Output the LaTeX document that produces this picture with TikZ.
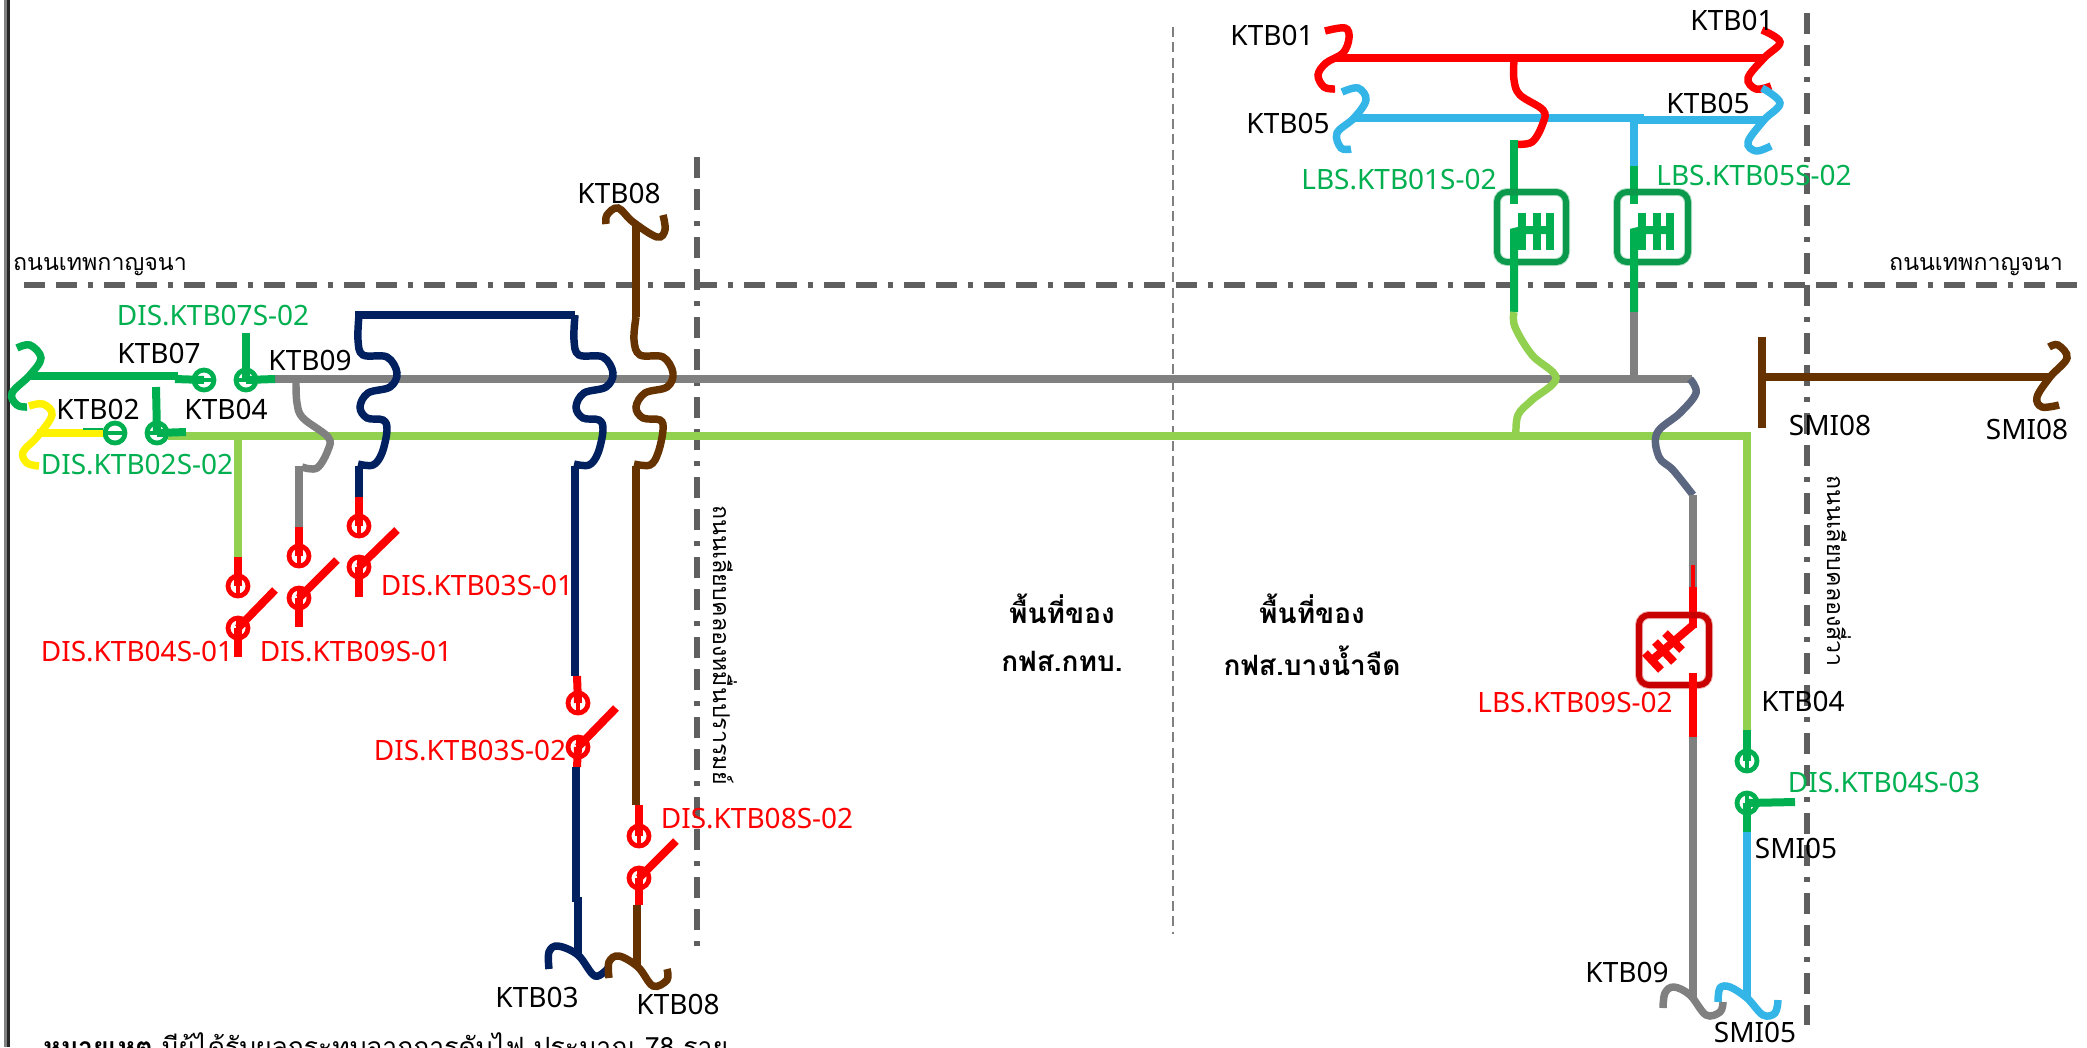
\documentclass[tikz,border=0pt]{standalone}
\usepackage{fontspec}
\setmainfont{Noto Sans}
\newfontfamily\thaif[Script=Thai]{Loma}
\definecolor{cgreen}{HTML}{00B050}
\definecolor{cdgreen}{HTML}{0B9A4B}
\definecolor{clgreen}{HTML}{92D050}
\definecolor{cred}{HTML}{FF0000}
\definecolor{cdred}{HTML}{C80000}
\definecolor{cblue}{HTML}{33B5E8}
\definecolor{cnavy}{HTML}{002060}
\definecolor{cbrown}{HTML}{663300}
\definecolor{cgrey}{HTML}{808080}
\definecolor{cslate}{HTML}{5B6780}
\definecolor{croad}{HTML}{5F5F5F}
\tikzset{
  x=0.75pt,y=-0.75pt,
  wire/.style={line width=6pt,line cap=butt,line join=miter},
  thinwire/.style={line width=2.6pt,line cap=butt},
  sq/.style={line width=5.6pt,line cap=butt,smooth,tension=0.6},
  road/.style={line width=4.5pt,color=croad,line cap=butt,dash pattern=on 15.75pt off 8.25pt on 15.75pt off 8.25pt on 3.75pt off 8.25pt},
  sw/.style={circle,draw=#1,line width=3.6pt,minimum size=15pt,inner sep=0pt},
  lab/.style={font=\fontsize{21}{23}\selectfont,text=black,inner sep=0pt},
  glab/.style={lab,text=cgreen},
  rlab/.style={lab,text=cred},
  tlab/.style={font=\thaif\fontsize{17.4}{20}\selectfont,text=black,inner sep=0pt},
  cen/.style={font=\thaif\bfseries\fontsize{21}{23}\selectfont,text=black,inner sep=0pt},
  note/.style={font=\thaif\fontsize{19.9}{22}\selectfont,text=black,inner sep=0pt},
  lbox/.style={rounded corners=7.5pt,line width=4.5pt},
}
\begin{document}
\begin{tikzpicture}
\useasboundingbox (0,0) rectangle (2087,1047);
\clip (0,0) rectangle (2087,1047);
\fill[white] (0,0) rectangle (2087,1047);
% frame
\draw[cgrey,line width=2.2pt] (5.5,0) -- (5.5,1047);
\draw[black!85,line width=2.8pt] (8.5,0) -- (8.5,1047);
% road lines
\draw[road] (24,285) -- (2077,285);
\draw[road] (697,157) -- (697,948);
\draw[road] (1807,13) -- (1807,1025);
\draw[cgrey,line width=1.1pt,dash pattern=on 7.5pt off 4pt] (1173,27) -- (1173,934);

% switch nodes
\node[sw=cgreen] (d7a) at (204,380) {};
\node[sw=cgreen] (d7b) at (246,380) {};
\node[sw=cgreen] (d2a) at (115,433) {};
\node[sw=cgreen] (d2b) at (157,433) {};
\node[sw=cgreen] (d43a) at (1747,761) {};
\node[sw=cgreen] (d43b) at (1747,803) {};
\node[sw=cred] (d41a) at (238,586) {};
\node[sw=cred] (d41b) at (238,628) {};
\node[sw=cred] (d91a) at (299,556) {};
\node[sw=cred] (d91b) at (299,598) {};
\node[sw=cred] (d31a) at (359,526) {};
\node[sw=cred] (d31b) at (359,567) {};
\node[sw=cred] (d32a) at (578,703) {};
\node[sw=cred] (d32b) at (578,747) {};
\node[sw=cred] (d82a) at (639,836) {};
\node[sw=cred] (d82b) at (639,878) {};

% buses
\draw[wire,cgrey] (275,379) -- (1692,379);
\draw[wire,clgreen] (168,436) -- (1747,436) -- (1747,730);
\draw[wire,clgreen] (238,436) -- (238,557);

% KTB07 green
\draw[wire,cgreen] (30,376) -- (178,376);
\draw[wire,cgreen] (175,379) -- (d7a.center);
\draw[thinwire,cgreen] (d7a.west) -- (d7a.east);
\draw[sq,cgreen] plot coordinates {(17,348)(30,345)(41,358)(30,375)(12,393)(17,405)(27,407)};
\draw[wire,cgreen] (246,333) -- (d7b.center);
\draw[wire,cgreen] (d7b.center) -- (275,379);
\draw[thinwire,cgreen] (d7b.west) -- (d7b.east);
% KTB02 yellow
\draw[sq,yellow] plot coordinates {(29,406)(43,404)(52,415)(37,437)(23,452)(27,463)(39,466)};
\draw[wire,yellow] (37,433) -- (103,433);
\draw[cgreen,line width=1.1pt] (83,429) -- (103,429);
\draw[thinwire,cgreen] (d2a.west) -- (d2a.east);
\draw[wire,cgreen] (156,387) -- (d2b.center);
\draw[wire,cgreen] (d2b.center) -- (186,432);
\draw[thinwire,cgreen] (d2b.west) -- (d2b.east);

% red switches left
\draw[wire,cred] (238,557) -- (d41a.center);
\draw[thinwire,cred] (d41a.center) -- (d41a.south);
\draw[thinwire,cred] (d41b.north) -- (d41b.center);
\draw[wire,cred] (d41b.center) -- (238,657);
\draw[wire,cred] (d41b.center) -- (275,590);
% grey KTB09 branch
\draw[sq,cgrey] plot coordinates {(296,381)(297,403)(303,418)(328,437)(328,450)(317,468)(302,467)};
\draw[wire,cgrey] (299,466) -- (299,527);
\draw[wire,cred] (299,527) -- (d91a.center);
\draw[thinwire,cred] (d91a.center) -- (d91a.south);
\draw[thinwire,cred] (d91b.north) -- (d91b.center);
\draw[wire,cred] (d91b.center) -- (299,627);
\draw[wire,cred] (d91b.center) -- (337,560);
% navy
\draw[wire,cnavy] (355,315) -- (575,315);
\draw[sq,cnavy] plot coordinates {(359,315)(358,340)(363,355)(387,357)(397,373)(390,387)(368,393)(360,407)(367,418)(383,420)(387,430)(382,453)(373,465)(358,464)};
\draw[wire,cnavy] (359,466) -- (359,497);
\draw[wire,cred] (359,497) -- (d31a.center);
\draw[thinwire,cred] (d31a.center) -- (d31a.south);
\draw[thinwire,cred] (d31b.north) -- (d31b.center);
\draw[wire,cred] (d31b.center) -- (359,597);
\draw[wire,cred] (d31b.center) -- (397,530);
\draw[sq,cnavy] plot coordinates {(575,315)(574,340)(579,355)(603,357)(613,373)(606,387)(584,393)(576,407)(583,418)(599,420)(603,430)(598,453)(589,465)(574,464)};
\draw[wire,cnavy] (575,466) -- (575,676);
\draw[wire,cred] (577,676) -- (d32a.center);
\draw[thinwire,cred] (d32a.center) -- (d32a.south);
\draw[thinwire,cred] (d32b.north) -- (d32b.center);
\draw[wire,cred] (d32b.center) -- (577,767);
\draw[wire,cred] (d32b.center) -- (616,708);
\draw[wire,cnavy] (576,767) -- (576,902);
\draw[wire,cnavy] (578,897) -- (578,955);
\draw[sq,cnavy] plot coordinates {(549,969)(549,952)(558,946)(578,955)(595,976)(609,967)};
% brown KTB08
\draw[sq,cbrown] plot coordinates {(606,224)(607,215)(618,208)(633,222)(657,237)(665,230)(663,215)};
\draw[wire,cbrown] (636,223) -- (636,317);
\draw[sq,cbrown] plot coordinates {(636,317)(634,340)(640,355)(663,357)(673,373)(667,387)(645,393)(636,407)(643,418)(660,420)(663,430)(658,453)(650,465)(634,464)};
\draw[wire,cbrown] (636,466) -- (636,805);
\draw[wire,cred] (639,805) -- (d82a.center);
\draw[thinwire,cred] (d82a.center) -- (d82a.south);
\draw[thinwire,cred] (d82b.north) -- (d82b.center);
\draw[wire,cred] (d82b.center) -- (639,905);
\draw[wire,cred] (d82b.center) -- (676,841);
\draw[wire,cbrown] (637,905) -- (637,967);
\draw[sq,cbrown] plot coordinates {(609,978)(609,962)(619,956)(638,967)(653,986)(667,980)(667,969)};

% top right buses
\draw[wire,cred] (1335,58) -- (1764,58);
\draw[sq,cred] plot coordinates {(1325,31)(1345,28)(1349,38)(1343,53)(1326,63)(1318,75)(1324,87)(1335,89)};
\draw[sq,cred] plot coordinates {(1762,30)(1780,42)(1764,58)(1748,78)(1756,89)(1771,86)};
\draw[wire,cblue] (1354,118) -- (1640,118) -- (1640,120) -- (1764,120);
\draw[sq,cblue] plot coordinates {(1342,92)(1358,88)(1366,100)(1354,118)(1337,133)(1341,148)(1351,149)};
\draw[sq,cblue] plot coordinates {(1762,88)(1780,103)(1764,120)(1748,142)(1756,151)(1771,146)};
\draw[sq,cred] plot coordinates {(1514,60)(1514,80)(1520,95)(1543,110)(1543,123)(1532,142)(1514,144)};
% LBS green 1
\draw[wire,cgreen] (1514,140) -- (1514,204);
\draw[lbox,draw=cdgreen,line width=6pt,opacity=.3] (1497,192) rectangle (1566,262);
\draw[lbox,draw=cdgreen] (1497,192) rectangle (1566,262);
\draw[wire,cgreen] (1514,312) -- (1514,232) -- (1522,230) -- (1553,230);
\draw[wire,cgreen] (1522,213) -- (1522,250);
\draw[wire,cgreen] (1537,213) -- (1537,250);
\draw[wire,cgreen] (1550,213) -- (1550,250);
\draw[sq,clgreen] plot coordinates {(1514,312)(1515,327)(1532,355)(1556,378)(1532,400)(1518,415)(1516,436)};
% LBS green 2
\draw[wire,cblue] (1634,120) -- (1634,166);
\draw[wire,cgreen] (1634,166) -- (1634,204);
\draw[lbox,draw=cdgreen,line width=6pt,opacity=.3] (1617,192) rectangle (1688,262);
\draw[lbox,draw=cdgreen] (1617,192) rectangle (1688,262);
\draw[wire,cgreen] (1634,312) -- (1634,232) -- (1642,230) -- (1673,230);
\draw[wire,cgreen] (1642,213) -- (1642,250);
\draw[wire,cgreen] (1657,213) -- (1657,250);
\draw[wire,cgreen] (1670,213) -- (1670,250);
\draw[wire,cgrey] (1634,312) -- (1634,378);
% slate
\draw[sq,cslate] plot coordinates {(1690,379)(1696,393)(1680,413)(1657,433)(1659,457)(1673,470)(1693,495)};
% LBS red
\draw[wire,cgrey] (1693,495) -- (1693,587);
\draw[cred,line width=2.6pt] (1693,565) -- (1693,587);
\draw[wire,cred] (1693,587) -- (1693,628);
\draw[lbox,draw=cdred,line width=6pt,opacity=.3] (1639,615) rectangle (1709,685);
\draw[lbox,draw=cdred] (1639,615) rectangle (1709,685);
\draw[wire,cred] (1693,625) -- (1652,660);
\draw[wire,cred] (1645,653) -- (1661,670);
\draw[wire,cred] (1655,642) -- (1674,662);
\draw[wire,cred] (1665,633) -- (1682,650);
\draw[wire,cred] (1693,673) -- (1693,737);
\draw[wire,cgrey] (1693,737) -- (1693,1000);
\draw[sq,cgrey] plot coordinates {(1663,1008)(1665,993)(1674,987)(1690,995)(1706,1015)(1720,1012)(1723,1002)};
% right green
\draw[wire,cgreen] (1747,730) -- (d43a.center);
\draw[thinwire,cgreen] (d43a.center) -- (d43a.south);
\draw[wire,cgreen] (d43b.center) -- (1795,802);
\draw[thinwire,cgreen] (d43b.north) -- (d43b.center);
\draw[wire,cgreen] (d43b.center) -- (1747,832);
\draw[wire,cblue] (1747,832) -- (1747,997);
\draw[sq,cblue] plot coordinates {(1718,1002)(1720,988)(1730,987)(1747,998)(1763,1015)(1775,1013)(1778,1000)};
% SMI08 brown
\draw[wire,cbrown] (1762,337) -- (1762,428);
\draw[wire,cbrown] (1762,377) -- (2050,377);
\draw[sq,cbrown] plot coordinates {(2049,347)(2058,345)(2067,358)(2050,377)(2037,397)(2042,407)(2059,405)};

% labels
\node[glab] (l1) at (213,316) {DIS.KTB07S-02};
\node[lab] (l2) at (159,353) {KTB07};
\node[lab] (l3) at (310,360) {KTB09};
\node[lab] (l4) at (98,409) {KTB02};
\node[lab] (l5) at (226,409) {KTB04};
\node[glab] (l6) at (137,465) {DIS.KTB02S-02};
\node[rlab] (l7) at (137,652) {DIS.KTB04S-01};
\node[rlab] (l8) at (356,652) {DIS.KTB09S-01};
\node[rlab] (l9) at (477,586) {DIS.KTB03S-01};
\node[rlab] (l10) at (470,751) {DIS.KTB03S-02};
\node[rlab] (l11) at (757,819) {DIS.KTB08S-02};
\node[lab] (l12) at (619,193) {KTB08};
\node[lab] (l13) at (537,997) {KTB03};
\node[lab] (l14) at (678,1004) {KTB08};
\node[lab] (l15) at (1272,35) {KTB01};
\node[lab] (l16) at (1732,20) {KTB01};
\node[lab] (l17) at (1288,123) {KTB05};
\node[lab] (l18) at (1708,103) {KTB05};
\node[glab] (l19) at (1399,180) {LBS.KTB01S-02};
\node[glab] (l20) at (1754,176) {LBS.KTB05S-02};
\node[rlab] (l21) at (1575,703) {LBS.KTB09S-02};
\node[lab] (l22) at (1803,701) {KTB04};
\node[glab] (l23) at (1884,783) {DIS.KTB04S-03};
\node[lab] (l24) at (1796,848) {SMI05};
\node[lab] (l25) at (1627,972) {KTB09};
\node[lab] (l26) at (1755,1032) {SMI05};
\node[lab] (l27) at (1830,425) {SMI08};
\node[lab] (l28) at (2027,429) {SMI08};
\node[tlab] (t1) at (100,267) {ถนนเทพกาญจนา};
\node[tlab] (t2) at (1976,267) {ถนนเทพกาญจนา};
\node[tlab,rotate=-90] (t3) at (1839,571) {ถนนเลียบคลองสี่วา};
\node[tlab,rotate=-90] (t4) at (725,645) {ถนนเลียบคลองหมื่นปรารมย์};
\node[cen] (c1) at (1062,609) {พื้นที่ของ};
\node[cen] (c2) at (1062,661) {กฟส.กทบ.};
\node[cen] (c3) at (1312,609) {พื้นที่ของ};
\node[cen] (c4) at (1312,661) {กฟส.บางน้ำจืด};
\node[note,anchor=base west] (n1) at (43,1056) {{\bfseries หมายเหตุ} มีผู้ได้รับผลกระทบจากการดับไฟ ประมาณ 78 ราย};
\end{tikzpicture}
\end{document}
